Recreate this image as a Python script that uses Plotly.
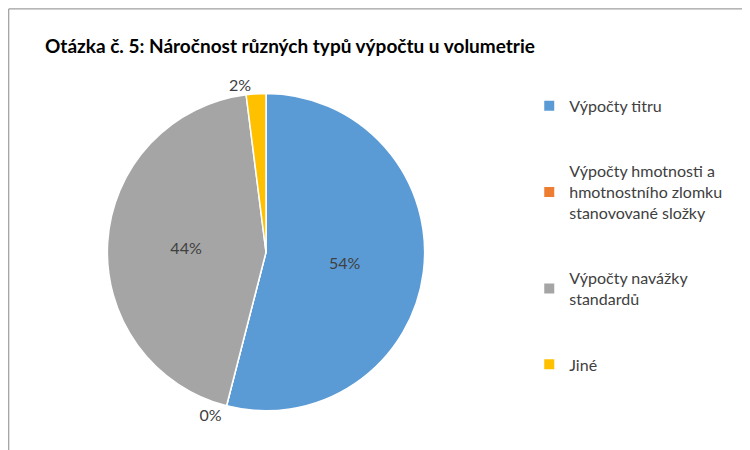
import plotly.graph_objects as go

labels = ["Výpočty titru",
          "Výpočty hmotnosti a<br>hmotnostního zlomku<br>stanovované složky",
          "Výpočty navážky<br>standardů",
          "Jiné"]
values = [54, 0, 44, 2]
colors = ["#5B9BD5", "#ED7D31", "#A5A5A5", "#FFC000"]

# blank lines around each legend entry to spread them out like the original
padded = ["&nbsp;<br>" + s + "<br>&nbsp;" for s in labels]

fig = go.Figure()
fig.add_trace(go.Pie(
    labels=padded,
    values=values,
    sort=False,
    direction="clockwise",
    rotation=0,
    marker=dict(colors=colors, line=dict(color="white", width=1.5)),
    texttemplate="%{percent:.0%}",
    textposition=["inside", "outside", "inside", "outside"],
    insidetextorientation="horizontal",
    textfont=dict(size=16, color="#404040"),
    outsidetextfont=dict(size=16, color="#404040"),
    domain=dict(x=[0.13, 0.558], y=[0.105, 0.81]),
    hoverinfo="percent",
))

fig.update_layout(
    width=750, height=450,
    margin=dict(l=0, r=0, t=0, b=0),
    paper_bgcolor="white",
    font=dict(family="Lato, Open Sans, sans-serif", color="#404040"),
    showlegend=True,
    legend=dict(x=0.695, y=1 - 60 / 450, xanchor="left", yanchor="top",
                font=dict(size=16, color="#404040"),
                itemsizing="constant"),
    annotations=[dict(
        text="<b>Otázka č. 5: Náročnost různých typů výpočtu u volumetrie</b>",
        x=35 / 750, y=1 - 38 / 450, xref="paper", yref="paper",
        xanchor="left", yanchor="middle", showarrow=False,
        font=dict(size=19, color="black"))],
    shapes=[dict(type="rect", xref="paper", yref="paper",
                 x0=0.001, y0=0.003, x1=0.997, y1=0.998,
                 line=dict(color="#888888", width=1))],
)

fig.write_html("out.html")
